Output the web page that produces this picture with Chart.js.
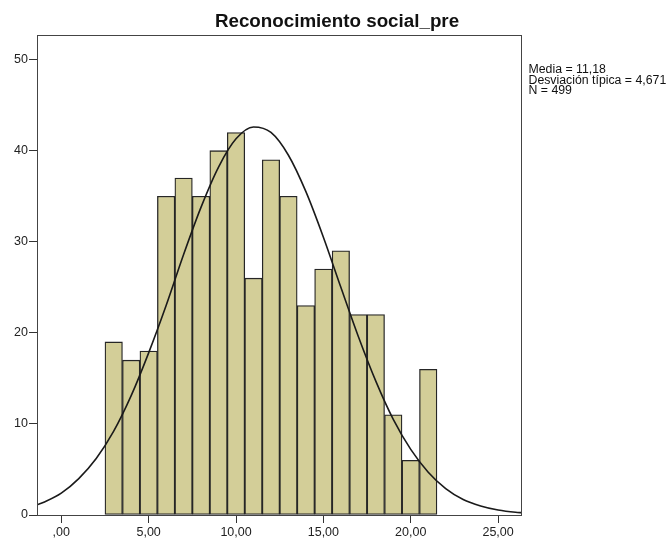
<!DOCTYPE html>
<html>
<head>
<meta charset="utf-8">
<script src="https://cdn.jsdelivr.net/npm/chart.js@4"></script>
<style>
  html, body { margin: 0; padding: 0; background: #fff; }
  #wrap { width: 671px; height: 539px; }
</style>
</head>
<body>
<div id="wrap"><canvas id="grafico" width="671" height="539"></canvas></div>
<script>
// histograma Reconocimiento social_pre con curva normal
const titulo = 'Reconocimiento social_pre'
const estadisticas = ['Media = 11,18', 'Desviación típica = 4,671', 'N = 499']

// centros de las barras y frecuencias
const centros = [3, 4, 5, 6, 7, 8, 9, 10, 11, 12, 13, 14, 15, 16, 17, 18, 19, 20, 21]
const frecuencias = [19, 17, 18, 35, 37, 35, 40, 42, 26, 39, 35, 23, 27, 29, 22, 22, 11, 6, 16]

// curva normal
const curvaX = [-1.4, -1, 0, 1, 2, 3, 4, 5, 6, 7, 8, 9, 10, 11, 12, 13, 14, 15, 16, 17, 18, 19, 20, 21, 22, 23, 24, 25, 26, 26.4]
const curvaY = [1.1, 1.4, 2.4, 4.0, 6.2, 9.2, 13.1, 17.8, 23.0, 28.6, 33.8, 38.2, 41.3, 42.6, 42.0, 39.5, 35.5, 30.5, 25.0, 19.6, 14.7, 10.5, 7.2, 4.7, 2.9, 1.7, 1.0, 0.55, 0.3, 0.25]

const ticksX = [0, 5, 10, 15, 20, 25]
const ticksY = [0, 10, 20, 30, 40, 50]

const fuente = "'Liberation Sans', Arial, sans-serif"

const formatoX = v => {
  const s = v.toFixed(2).replace('.', ',')
  return s.startsWith('0,') ? s.slice(1) : s
}

const textos = {
  id: 'textos',
  afterDraw(chart) {
    const c = chart.ctx
    const a = chart.chartArea
    c.save()
    // marco
    c.strokeStyle = '#444'
    c.lineWidth = 1
    c.strokeRect(Math.round(a.left) + 0.5, Math.round(a.top) + 0.5, Math.round(a.right - a.left), Math.round(a.bottom - a.top))
    // titulo
    c.fillStyle = '#111'
    c.font = `bold 18.8px ${fuente}`
    c.textAlign = 'center'
    c.textBaseline = 'alphabetic'
    c.fillText(titulo, 337, 26.5)
    // estadisticas
    c.font = `12.3px ${fuente}`
    c.textAlign = 'left'
    estadisticas.forEach((t, i) => c.fillText(t, 528.5, 73.3 + i * 10.5))
    c.restore()
  }
}

new Chart(document.getElementById('grafico'), {
  data: {
    datasets: [
      {
        type: 'line',
        order: 0,
        data: curvaX.map((x, i) => ({ x, y: curvaY[i] })),
        borderColor: '#1a1a1a',
        borderWidth: 1.6,
        pointRadius: 0,
        cubicInterpolationMode: 'monotone',
        fill: false
      },
      {
        type: 'bar',
        order: 1,
        data: centros.map((x, i) => ({ x, y: frecuencias[i] })),
        backgroundColor: '#d3ce98',
        borderColor: '#262626',
        borderWidth: 1.3,
        borderSkipped: false,
        barPercentage: 1,
        categoryPercentage: 1
      }
    ]
  },
  options: {
    responsive: false,
    animation: false,
    devicePixelRatio: 1,
    layout: { padding: { left: 0, top: 35, right: 150, bottom: 0 } },
    plugins: { legend: { display: false }, tooltip: { enabled: false } },
    scales: {
      x: {
        type: 'linear',
        offset: false,
        min: -1.39,
        max: 26.31,
        afterFit: s => { s.height = 24 },
        afterBuildTicks: s => { s.ticks = ticksX.map(v => ({ value: v })) },
        ticks: { callback: v => formatoX(v), color: '#222', font: { family: fuente, size: 12.5 }, padding: 2, maxRotation: 0 },
        grid: { offset: false, drawOnChartArea: false, tickLength: 8, color: '#333' },
        border: { color: '#333' }
      },
      y: {
        min: 0,
        max: 52.7,
        afterFit: s => { s.width = 37 },
        afterBuildTicks: s => { s.ticks = ticksY.map(v => ({ value: v })) },
        ticks: { color: '#222', font: { family: fuente, size: 12.5 }, padding: 1 },
        grid: { drawOnChartArea: false, tickLength: 8, color: '#333' },
        border: { color: '#333' }
      }
    }
  },
  plugins: [textos]
})
</script>
</body>
</html>
